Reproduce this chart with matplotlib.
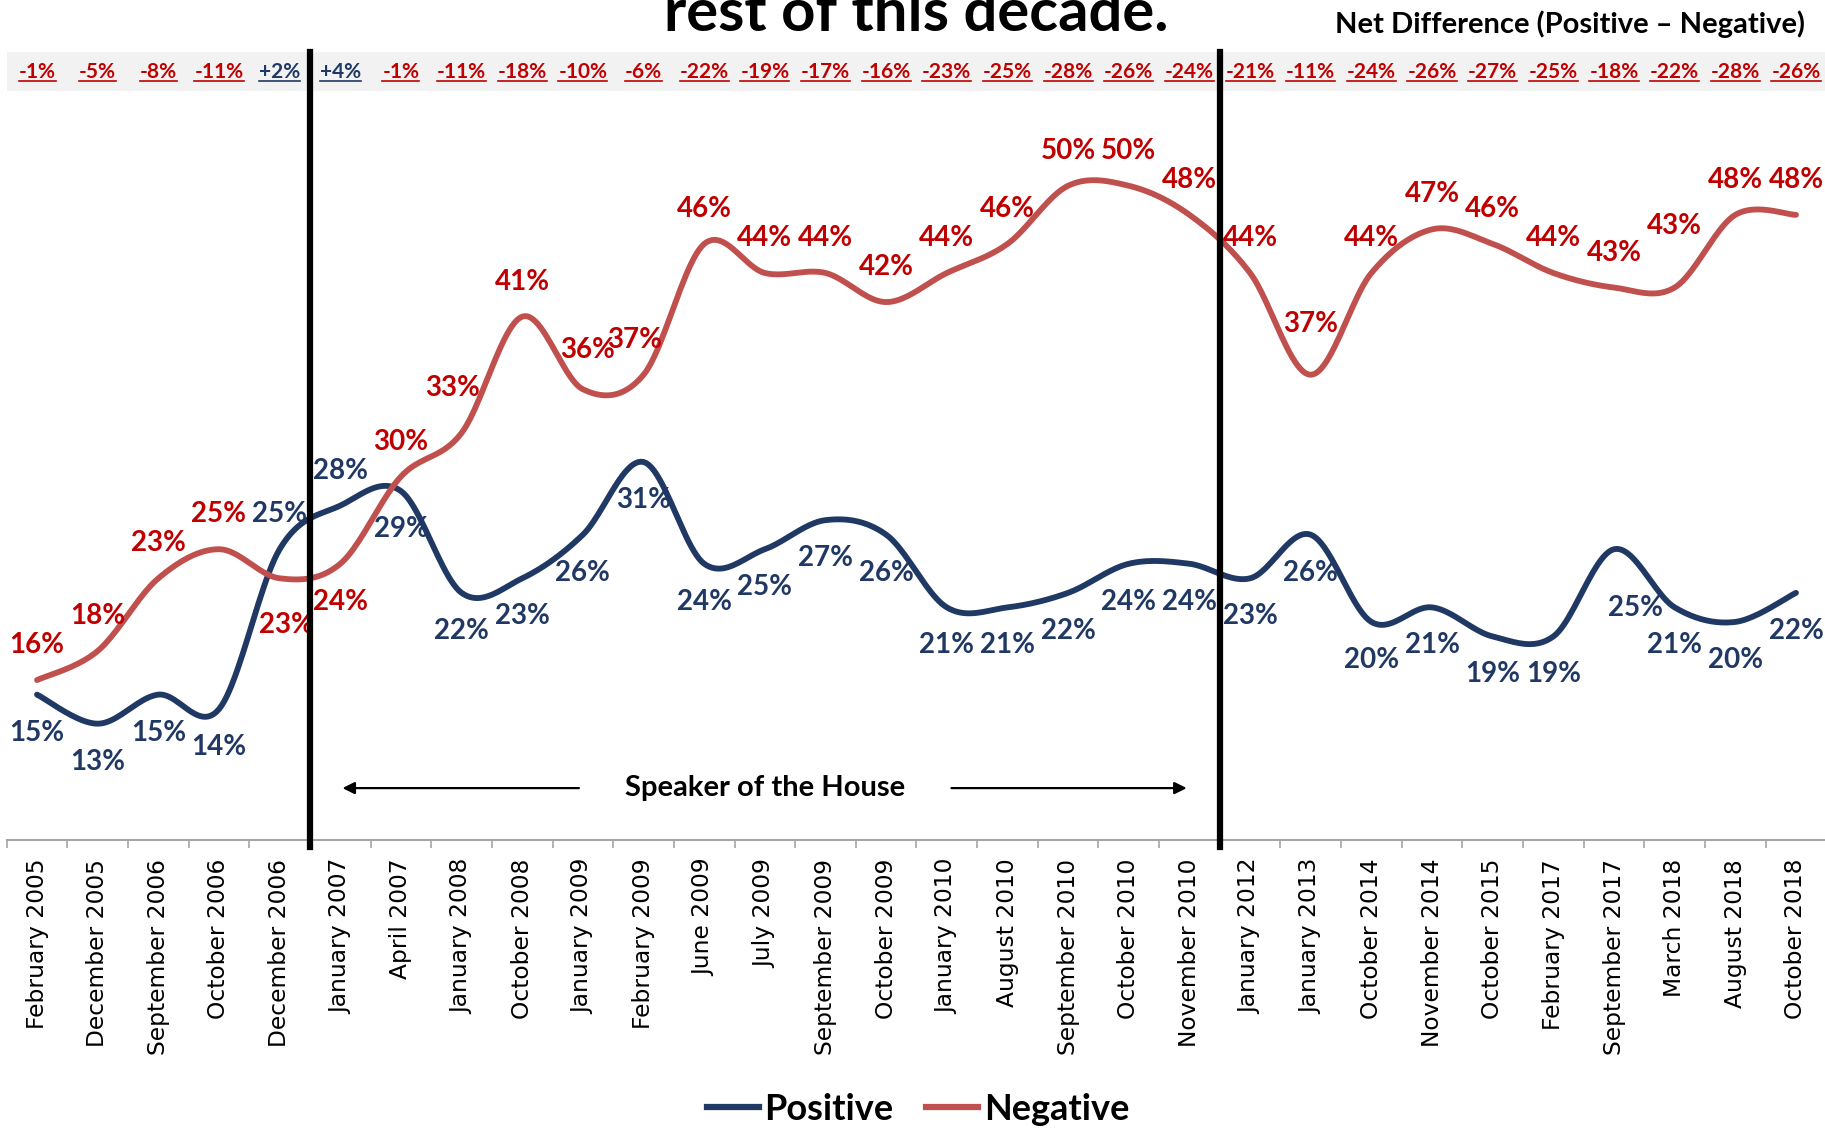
import numpy as np
import matplotlib
matplotlib.use("Agg")
import matplotlib.pyplot as plt
from matplotlib import font_manager as fm
from matplotlib.lines import Line2D
from matplotlib.patches import Rectangle
import matplotlib.transforms as mtransforms

# ---- data ----
dates = ['February 2005', 'December 2005', 'September 2006', 'October 2006', 'December 2006',
         'January 2007', 'April 2007', 'January 2008', 'October 2008', 'January 2009',
         'February 2009', 'June 2009', 'July 2009', 'September 2009', 'October 2009',
         'January 2010', 'August 2010', 'September 2010', 'October 2010', 'November 2010',
         'January 2012', 'January 2013', 'October 2014', 'November 2014', 'October 2015',
         'February 2017', 'September 2017', 'March 2018', 'August 2018', 'October 2018']
positive = [15, 13, 15, 14, 25, 28, 29, 22, 23, 26, 31, 24, 25, 27, 26,
            21, 21, 22, 24, 24, 23, 26, 20, 21, 19, 19, 25, 21, 20, 22]
negative = [16, 18, 23, 25, 23, 24, 30, 33, 41, 36, 37, 46, 44, 44, 42,
            44, 46, 50, 50, 48, 44, 37, 44, 47, 46, 44, 43, 43, 48, 48]
net_diff = [-1, -5, -8, -11, 2, 4, -1, -11, -18, -10, -6, -22, -19, -17, -16,
            -23, -25, -28, -26, -24, -21, -11, -24, -26, -27, -25, -18, -22, -28, -26]
speaker_start, speaker_end = 'January 2007', 'November 2010'

NAVY = '#1F3864'
RED_LINE = '#C0504D'
RED_TXT = '#C00000'


def pick(names):
    for n in names:
        try:
            fm.findfont(fm.FontProperties(family=n, weight='bold'), fallback_to_default=False)
            return n
        except ValueError:
            pass
    return 'DejaVu Sans'


NARROW = pick(['Liberation Sans Narrow', 'Lato', 'Open Sans'])


def smooth(y, n=24):
    # Excel style smoothed line (bezier through the points)
    pts = np.column_stack([np.arange(len(y), dtype=float), np.asarray(y, float)])
    ext = np.vstack([pts[0], pts, pts[-1]])
    t = np.linspace(0, 1, n)[:, None]
    out = []
    for i in range(len(pts) - 1):
        p0, p1, p2, p3 = ext[i], ext[i + 1], ext[i + 2], ext[i + 3]
        c1 = p1 + (p2 - p0) / 6
        c2 = p2 - (p3 - p1) / 6
        seg = (1 - t) ** 3 * p1 + 3 * (1 - t) ** 2 * t * c1 + 3 * (1 - t) * t ** 2 * c2 + t ** 3 * p2
        out.append(seg if i == 0 else seg[1:])
    out = np.vstack(out)
    return out[:, 0], out[:, 1]


W, H = 1825, 1128
fig = plt.figure(figsize=(W / 100, H / 100), dpi=100)
ax = fig.add_axes([6.7 / W, 1 - 840 / H, 1819.6 / W, (840 - 52) / H])

x = np.arange(len(dates))
ax.set_xlim(-0.5, len(dates) - 0.5)
ax.set_ylim(5, 59.2)

sx, sy = smooth(positive)
ax.plot(sx, sy, color=NAVY, lw=4.2, solid_capstyle='round', zorder=3)
sx, sy = smooth(negative)
ax.plot(sx, sy, color=RED_LINE, lw=4.2, solid_capstyle='round', zorder=3)

# label placement (pixels), default below for positive, above for negative
pos_off = {4: (0, 35), 5: (0, 35), 26: (21, -59)}
neg_off = {4: (7, -47), 5: (0, -38), 7: (-9, 45), 9: (5, 39), 10: (-9, 35),
           21: (0, 51), 27: (0, 62)}
for i, v in enumerate(positive):
    dx, dy = pos_off.get(i, (0, -38))
    ax.annotate(f'{v}%', (i, v), xytext=(dx, dy), textcoords='offset pixels',
                ha='center', va='center', color=NAVY, fontsize=20,
                fontweight='bold', family=NARROW, zorder=4)
for i, v in enumerate(negative):
    dx, dy = neg_off.get(i, (0, 35))
    ax.annotate(f'{v}%', (i, v), xytext=(dx, dy), textcoords='offset pixels',
                ha='center', va='center', color=RED_TXT, fontsize=20,
                fontweight='bold', family=NARROW, zorder=4)

# axes styling
for s in ['top', 'right', 'left']:
    ax.spines[s].set_visible(False)
ax.spines['bottom'].set_color('#A6A6A6')
ax.spines['bottom'].set_linewidth(1.5)
ax.set_yticks([])
ax.set_xticks(np.arange(len(dates) + 1) - 0.5)
ax.set_xticklabels([])
ax.tick_params(axis='x', which='major', length=6, width=1.2, color='#A6A6A6')
ax.set_xticks(x, minor=True)
ax.set_xticklabels(dates, minor=True, rotation=90, fontsize=16.8, family='DejaVu Sans')
ax.tick_params(axis='x', which='minor', length=0, pad=13.5)

# vertical separators
a = dates.index(speaker_start) - 0.5
b = dates.index(speaker_end) + 0.5
for xv in (a, b):
    ax.axvline(xv, ymin=-0.009, ymax=1, color='black', lw=4.5, clip_on=False, zorder=5)

# grey band with net difference
ax.add_patch(Rectangle((0.0, 0.9505), 1.0, 0.0495, transform=ax.transAxes,
                       facecolor='#F2F2F2', edgecolor='none', clip_on=False, zorder=0))
trans = mtransforms.blended_transform_factory(ax.transData, ax.transAxes)
net_texts = []
for i, d in enumerate(net_diff):
    col = NAVY if d > 0 else RED_TXT
    t = ax.text(i, 0.9746, f'{d:+d}%', transform=trans, ha='center', va='center',
                color=col, fontsize=15, fontweight='bold', family=NARROW, zorder=6)
    net_texts.append((t, col))

# speaker of the house annotation
ax.text((a + b) / 2, 8.57, 'Speaker of the House', ha='center', va='center',
        fontsize=21, fontweight='bold', family=NARROW)
ax.annotate('', xy=(a + 0.49, 8.57), xytext=(a + 4.48, 8.57),
            arrowprops=dict(arrowstyle='-|>', color='black', lw=1.6, mutation_scale=18))
ax.annotate('', xy=(b - 0.5, 8.57), xytext=(b - 4.47, 8.57),
            arrowprops=dict(arrowstyle='-|>', color='black', lw=1.6, mutation_scale=18))

# title pieces
fig.text(916 / W, 1 - 31 / H, 'rest of this decade.', ha='center', va='baseline',
         fontsize=43, fontweight='bold', family=NARROW)
fig.text(1805 / W, 1 - 33 / H, 'Net Difference (Positive \u2013 Negative)', ha='right',
         va='baseline', fontsize=21, fontweight='bold', family=NARROW)

# legend
handles = [Line2D([], [], color=NAVY, lw=4.5), Line2D([], [], color=RED_LINE, lw=4.5)]
leg = fig.legend(handles, ['Positive', 'Negative'], loc='center',
                 bbox_to_anchor=(918 / W, 1 - 1109 / H), ncol=2, frameon=False,
                 handlelength=1.45, handletextpad=0.15, columnspacing=0.9,
                 prop=dict(family=NARROW, weight='bold', size=26))

# underline the net difference labels
fig.canvas.draw()
r = fig.canvas.get_renderer()
inv = fig.transFigure.inverted()
for t, col in net_texts:
    bb = t.get_window_extent(r)
    (x0, y0), (x1, _) = inv.transform([(bb.x0, bb.y0 + 1), (bb.x1, bb.y0)])
    fig.add_artist(Line2D([x0, x1], [y0, y0], transform=fig.transFigure, color=col, lw=1.2))

fig.savefig('out.png', dpi=100)
